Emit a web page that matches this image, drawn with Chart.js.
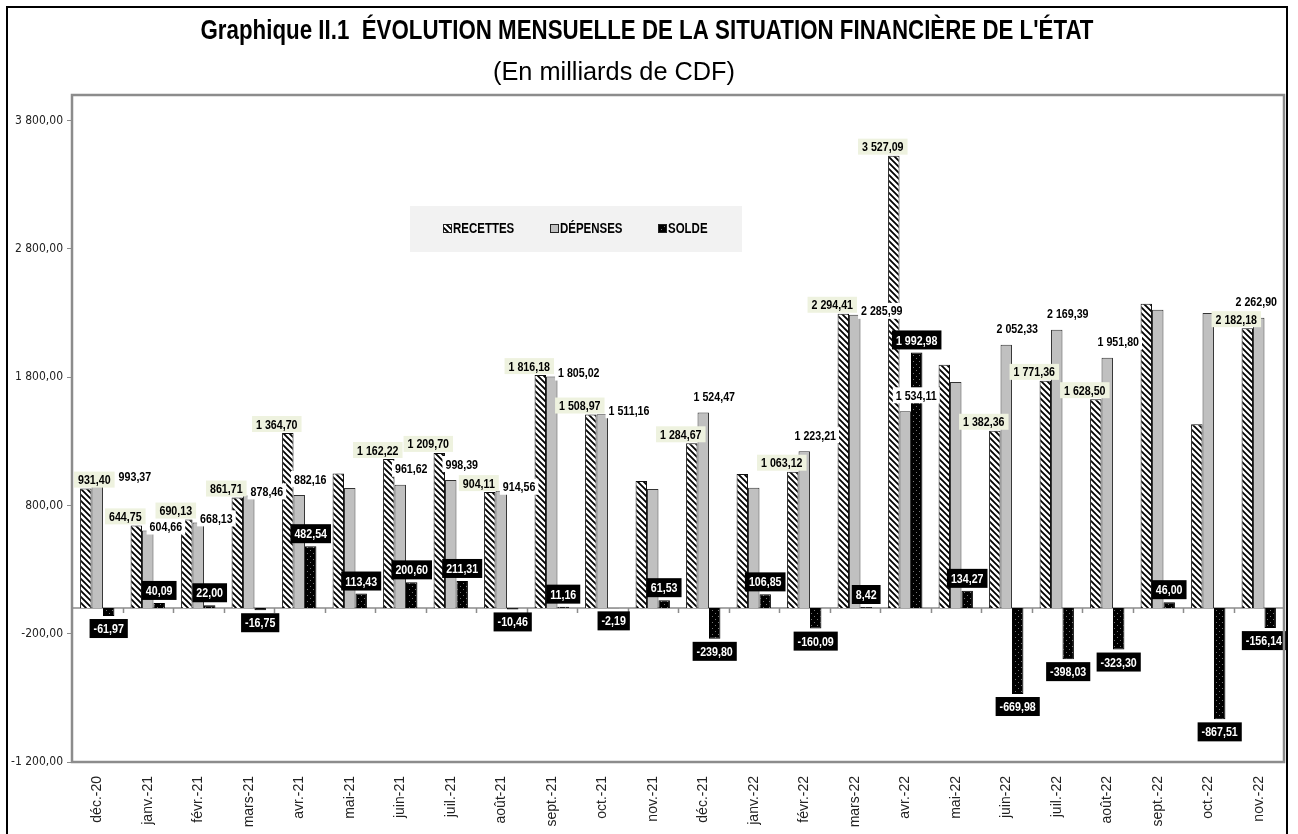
<!DOCTYPE html>
<html lang="fr">
<head>
<meta charset="utf-8">
<title>Situation financière de l'État</title>
<script src="https://cdn.jsdelivr.net/npm/chart.js@4.4.1/dist/chart.umd.min.js"></script>
<style>
  body { margin: 0; background: #fff; }
  #cadre { width: 1298px; height: 834px; position: relative; }
</style>
</head>
<body>
<div id="cadre"><canvas id="chart" width="1298" height="834"></canvas></div>
<script>
// données (milliards de CDF)
const mois = ['déc.-20', 'janv.-21', 'févr.-21', 'mars-21', 'avr.-21', 'mai-21', 'juin-21', 'juil.-21',
  'août-21', 'sept.-21', 'oct.-21', 'nov.-21', 'déc.-21', 'janv.-22', 'févr.-22', 'mars-22',
  'avr.-22', 'mai-22', 'juin-22', 'juil.-22', 'août-22', 'sept.-22', 'oct.-22', 'nov.-22']

const recettes = [931.40, 644.75, 690.13, 861.71, 1364.70, 1050.00, 1162.22, 1209.70,
  904.11, 1816.18, 1508.97, 990.00, 1284.67, 1045.00, 1063.12, 2294.41,
  3527.09, 1897.00, 1382.36, 1771.36, 1628.50, 2372.00, 1432.49, 2182.18]

const depenses = [993.37, 604.66, 668.13, 878.46, 882.16, 936.57, 961.62, 998.39,
  914.56, 1805.02, 1511.16, 928.47, 1524.47, 938.15, 1223.21, 2285.99,
  1534.11, 1762.73, 2052.33, 2169.39, 1951.80, 2326.00, 2300.00, 2262.90]

const solde = [-61.97, 40.09, 22.00, -16.75, 482.54, 113.43, 200.60, 211.31,
  -10.46, 11.16, -2.19, 61.53, -239.80, 106.85, -160.09, 8.42,
  1992.98, 134.27, -669.98, -398.03, -323.30, 46.00, -867.51, -156.14]

// mois sans étiquette pour recettes / dépenses
const sansEtiquette = ['mai-21', 'nov.-21', 'janv.-22', 'mai-22', 'sept.-22', 'oct.-22']

const graduations = [-1200, -200, 800, 1800, 2800, 3800]

const titre = "Graphique II.1  ÉVOLUTION MENSUELLE DE LA SITUATION FINANCIÈRE DE L'ÉTAT"
const sousTitre = '(En milliards de CDF)'

const NARROW = "'Liberation Sans Narrow', 'DejaVu Sans Condensed', 'Liberation Sans', sans-serif"
const ARIAL = "'Liberation Sans', Arial, sans-serif"
const ETROIT = 0.82   // compression horizontale (imitation Arial Narrow)

function fr(v) {
  const p = Math.abs(v).toFixed(2).split('.')
  const ent = p[0].replace(/\B(?=(\d{3})+(?!\d))/g, ' ')
  return (v < 0 ? '-' : '') + ent + ',' + p[1]
}

// motifs de remplissage
function motifHachure() {
  const t = document.createElement('canvas')
  t.width = 6; t.height = 6
  const c = t.getContext('2d')
  c.fillStyle = '#fff'; c.fillRect(0, 0, 6, 6)
  c.strokeStyle = '#000'; c.lineWidth = 1.8
  c.beginPath()
  c.moveTo(-1, -1); c.lineTo(7, 7)
  c.moveTo(-1, 5); c.lineTo(1, 7)
  c.moveTo(5, -1); c.lineTo(7, 1)
  c.stroke()
  return c.createPattern(t, 'repeat')
}
function motifPoints() {
  const t = document.createElement('canvas')
  t.width = 6; t.height = 6
  const c = t.getContext('2d')
  c.fillStyle = '#000'; c.fillRect(0, 0, 6, 6)
  c.fillStyle = '#777'
  c.fillRect(1, 1, 1, 1); c.fillRect(4, 4, 1, 1)
  return c.createPattern(t, 'repeat')
}
const hachure = motifHachure()
const points = motifPoints()

// texte compressé horizontalement, centré en (x, y)
function texteEtroit(c, txt, x, y, font, sx, couleur) {
  c.save()
  c.font = font
  c.translate(x, y)
  c.scale(sx, 1)
  c.textAlign = 'center'
  c.textBaseline = 'middle'
  c.fillStyle = couleur || '#000'
  c.fillText(txt, 0, 0)
  c.restore()
}
function largeur(c, txt, font, sx) {
  c.save()
  c.font = font
  const w = c.measureText(txt).width * sx
  c.restore()
  return w
}

const cadres = {
  id: 'cadres',
  beforeDatasetsDraw(chart) {
    const c = chart.ctx, a = chart.chartArea
    const y0 = chart.scales.y.getPixelForValue(0)
    const x = chart.scales.x
    c.save()
    // titres
    const fT = `bold 27px ${ARIAL}`, fS = `25px ${ARIAL}`
    texteEtroit(c, titre, 647, 32, fT, 893 / largeur(c, titre, fT, 1))
    texteEtroit(c, sousTitre, 614, 73, fS, 242 / largeur(c, sousTitre, fS, 1))
    // légende
    c.fillStyle = '#f2f2f2'
    c.fillRect(410, 206, 332, 46)
    const fL = `bold 14px ${ARIAL}`
    const items = [['RECETTES', hachure, 443], ['DÉPENSES', '#c0c0c0', 550], ['SOLDE', points, 658]]
    items.forEach(([txt, fill, px]) => {
      c.fillStyle = fill
      c.fillRect(px, 224, 8, 8)
      c.strokeStyle = '#222'; c.lineWidth = 1
      c.strokeRect(px + 0.5, 224.5, 8, 8)
      const w = largeur(c, txt, fL, ETROIT)
      texteEtroit(c, txt, px + 10 + w / 2, 229, fL, ETROIT)
    })
    // axe horizontal à zéro
    c.strokeStyle = '#8c8c8c'; c.lineWidth = 1.5
    c.beginPath()
    c.moveTo(a.left, y0); c.lineTo(a.right, y0)
    for (let i = 1; i < mois.length; i++) {
      const px = Math.round((x.getPixelForValue(i - 1) + x.getPixelForValue(i)) / 2) + 0.5
      c.moveTo(px, y0); c.lineTo(px, y0 + 5)
    }
    c.stroke()
    c.restore()
  },
  afterDraw(chart) {
    const c = chart.ctx, a = chart.chartArea
    c.save()
    c.strokeStyle = '#8c8c8c'; c.lineWidth = 2.5
    c.strokeRect(a.left, a.top, a.right - a.left, a.bottom - a.top)
    c.strokeStyle = '#000'; c.lineWidth = 2
    c.strokeRect(7, 7, 1280, 900)
    c.restore()
  }
}

const etiquettes = {
  id: 'etiquettes',
  afterDatasetsDraw(chart) {
    const c = chart.ctx, a = chart.chartArea
    const mR = chart.getDatasetMeta(0).data
    const mD = chart.getDatasetMeta(1).data
    const mS = chart.getDatasetMeta(2).data
    const f = `bold 13px ${ARIAL}`
    c.save()
    mois.forEach((m, i) => {
      if (!sansEtiquette.includes(m)) {
        // recettes : fond vert pâle, au-dessus de la barre, décalé à gauche
        const r = mR[i], tr = fr(recettes[i])
        const wr = largeur(c, tr, f, ETROIT) + 8
        const cx = Math.max(a.left + wr / 2 + 2, r.x - 11), cy = r.y - 9
        // dépenses : fond blanc, poussé à droite si chevauchement
        const d = mD[i], td = fr(depenses[i])
        const wd = largeur(c, td, f, ETROIT) + 6
        let cxd = d.x + 11
        let cyd = d.y - 16
        if (Math.abs(cyd - cy) < 16 && cxd - wd / 2 < cx + wr / 2) {
          cxd = cx + wr / 2 + wd / 2 + 1
          cyd = Math.max(cyd, d.y - 4)
        }
        cxd = Math.min(a.right - wd / 2 - 4, cxd)
        c.fillStyle = '#fff'
        c.fillRect(cxd - wd / 2, cyd - 8, wd, 16)
        texteEtroit(c, td, cxd, cyd + 1, f, ETROIT)
        c.fillStyle = '#eef2df'
        c.fillRect(cx - wr / 2, cy - 8, wr, 16)
        texteEtroit(c, tr, cx, cy + 1, f, ETROIT)
      }
      const b = mS[i], ts = fr(solde[i])
      const w = largeur(c, ts, f, ETROIT) + 8, h = 19
      const cy = solde[i] >= 0 ? Math.min(b.y, b.base) - 3 - h / 2 : Math.max(b.y, b.base) + 3 + h / 2
      const cx = Math.min(a.right + 2 - w / 2, b.x)
      c.fillStyle = '#000'
      c.fillRect(cx - w / 2, cy - h / 2, w, h)
      texteEtroit(c, ts, cx, cy + 1, f, ETROIT, '#fff')
    })
    c.restore()
  }
}

new Chart(document.getElementById('chart'), {
  type: 'bar',
  data: {
    labels: mois,
    datasets: [
      { label: 'RECETTES', data: recettes, backgroundColor: hachure, borderColor: '#111', borderWidth: 1 },
      { label: 'DÉPENSES', data: depenses, backgroundColor: '#c0c0c0', borderColor: '#333', borderWidth: 1 },
      { label: 'SOLDE', data: solde, backgroundColor: points, borderColor: '#000', borderWidth: 1 }
    ]
  },
  options: {
    responsive: false,
    animation: false,
    layout: { padding: { top: 95, left: 8, right: 14, bottom: 0 } },
    datasets: { bar: { categoryPercentage: 0.68, barPercentage: 1.0 } },
    plugins: {
      legend: { display: false },
      tooltip: { enabled: false },
      title: { display: false }
    },
    scales: {
      x: {
        grid: { display: false },
        border: { display: false },
        ticks: { color: '#222', font: { family: ARIAL, size: 14 }, minRotation: 90, maxRotation: 90, padding: 6 },
        afterFit: s => { s.height = 72 }
      },
      y: {
        min: -1200,
        max: 4000,
        afterBuildTicks: s => { s.ticks = graduations.map(v => ({ value: v })) },
        grid: { drawOnChartArea: false, color: '#8c8c8c', tickLength: 5 },
        border: { display: false },
        ticks: { color: '#222', font: { family: NARROW, size: 12 }, padding: 4, callback: v => fr(v) },
        afterFit: s => { s.width = 64 }
      }
    }
  },
  plugins: [cadres, etiquettes]
})
</script>
</body>
</html>
